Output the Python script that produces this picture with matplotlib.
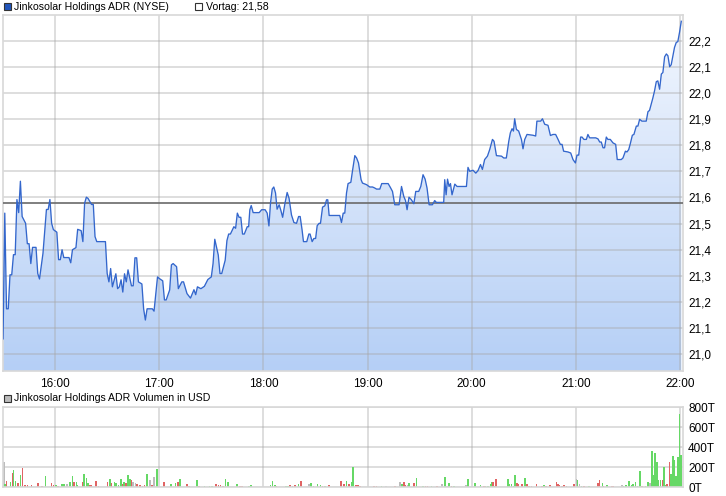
import numpy as np
import matplotlib
matplotlib.use('Agg')
import matplotlib.pyplot as plt
from matplotlib.patches import Polygon, Rectangle
from matplotlib.colors import LinearSegmentedColormap

plt.rcParams['font.family'] = ['Liberation Sans', 'DejaVu Sans']
plt.rcParams['font.size'] = 8.5

# Kursverlauf, Zeit in Minuten nach 15:30
kurs_min = [0, 1, 2, 3, 4, 5, 6, 7, 8, 9,
            10, 11, 13, 14, 15, 16, 17, 19, 20, 21,
            23, 25, 26, 27, 28, 29, 31, 32, 33, 34,
            35, 38, 39, 40, 42, 43, 45, 46, 47, 48,
            49, 51, 52, 53, 54, 59, 60, 61, 62, 63,
            65, 66, 67, 68, 69, 70, 71, 72, 74, 75,
            76, 77, 78, 80, 81, 82, 83, 86, 87, 89,
            90, 92, 93, 94, 96, 97, 98, 100, 101, 103,
            104, 106, 108, 110, 111, 112, 114, 116, 118, 120,
            121, 122, 124, 125, 126, 128, 129, 130, 131, 133,
            134, 135, 136, 137, 138, 139,
            140.7, 141.5, 142.2, 143.0, 144.1, 147.6, 149.0, 151.0, 152.2, 153.2,
            154.1, 155.1, 156.0, 157.0, 157.9, 159.1, 160.1, 161.1, 162.4, 163.7,
            164.8, 166.2, 167.6, 169.1, 170.3, 171.2, 172.3, 173.1, 175.0, 176.2,
            176.9, 178.1, 179.1, 180.1, 181.0, 182.1, 182.9, 184.1, 185.4, 186.4,
            187.1, 187.9, 194.0, 195.0, 196.0, 196.9, 197.9, 198.8, 200.4, 201.4,
            202.7, 203.7, 204.8, 206.3, 207.1, 209.4, 211.3, 212.9, 214.2, 215.2,
            217.1, 218.2, 221.9, 223.2, 224.4, 225.7, 228.2, 229.6, 230.9, 231.9,
            232.8, 233.9, 235.3, 236.7, 237.8, 239.5, 240.7, 242.0, 243.2, 244.3,
            245.5, 247.4, 248.7, 249.7, 253.9, 254.5, 255.3, 256.1, 257.0, 257.8,
            258.7, 260.3, 261.6, 267.0, 267.9, 268.9, 270.8, 272.4, 273.7, 275.1,
            276.2, 277.5, 279.1, 280.4, 282.0, 282.9, 284.3, 287.2, 288.5, 290.0,
            291.4, 292.3, 293.3, 294.1, 294.8, 295.8, 297.1, 298.7, 299.6, 300.6,
            301.9, 305.3, 306.9, 307.6, 309.8, 310.8, 312.1, 314.0, 315.4, 316.9,
            318.4, 319.8, 321.1, 322.1, 323.0, 325.5, 327.1, 328.4, 329.8, 330.7,
            331.7, 332.8, 333.6, 334.7, 336.1, 337.0, 338.0, 341.5, 342.8, 343.8,
            344.7, 345.7, 346.6, 347.6, 348.5, 349.9, 351.4, 353.0, 353.9, 356.2,
            357.2, 358.6, 359.5, 360.5, 361.4, 362.6, 363.5, 364.9, 365.8, 366.8,
            368.1, 370.6, 371.6, 372.5, 373.5, 374.4, 375.4, 376.4, 377.3, 378.3,
            379.3, 380.2, 381.2, 382.2, 383.1, 384.1, 385.0, 386.0, 386.9, 387.9,
            388.8, 389.8, 390.8]
kurs = [21.059, 21.540, 21.174, 21.174, 21.304, 21.304, 21.381, 21.381, 21.592, 21.542,
        21.662, 21.527, 21.501, 21.423, 21.423, 21.347, 21.409, 21.409, 21.309, 21.288,
        21.386, 21.554, 21.554, 21.592, 21.501, 21.477, 21.467, 21.362, 21.362, 21.400,
        21.370, 21.370, 21.350, 21.400, 21.408, 21.478, 21.473, 21.431, 21.578, 21.601,
        21.596, 21.573, 21.573, 21.450, 21.431, 21.431, 21.309, 21.277, 21.328, 21.258,
        21.308, 21.251, 21.258, 21.285, 21.238, 21.308, 21.277, 21.323, 21.262, 21.262,
        21.369, 21.369, 21.277, 21.269, 21.174, 21.131, 21.174, 21.174, 21.165, 21.296,
        21.290, 21.281, 21.208, 21.208, 21.246, 21.342, 21.347, 21.335, 21.251, 21.277,
        21.277, 21.232, 21.215, 21.247, 21.228, 21.258, 21.251, 21.260, 21.286, 21.296,
        21.347, 21.440, 21.380, 21.309, 21.309, 21.360, 21.435, 21.460, 21.460, 21.488,
        21.482, 21.540, 21.524, 21.524, 21.460, 21.460,
        21.488, 21.488, 21.553, 21.569, 21.542, 21.542, 21.553, 21.553, 21.540, 21.491,
        21.578, 21.632, 21.640, 21.617, 21.555, 21.572, 21.550, 21.524, 21.576, 21.619,
        21.597, 21.533, 21.504, 21.501, 21.527, 21.527, 21.476, 21.431, 21.431, 21.460,
        21.460, 21.431, 21.443, 21.443, 21.492, 21.501, 21.501, 21.563, 21.568, 21.591,
        21.591, 21.531, 21.531, 21.504, 21.540, 21.540, 21.617, 21.653, 21.658, 21.704,
        21.760, 21.751, 21.732, 21.668, 21.655, 21.649, 21.640, 21.640, 21.636, 21.632,
        21.632, 21.653, 21.653, 21.638, 21.623, 21.572, 21.572, 21.642, 21.604, 21.588,
        21.553, 21.601, 21.591, 21.576, 21.623, 21.623, 21.642, 21.687, 21.670, 21.636,
        21.572, 21.572, 21.588, 21.581, 21.581, 21.668, 21.610, 21.670, 21.642, 21.653,
        21.610, 21.651, 21.642, 21.642, 21.715, 21.700, 21.704, 21.693, 21.703, 21.726,
        21.707, 21.745, 21.758, 21.783, 21.822, 21.815, 21.760, 21.758, 21.751, 21.751,
        21.815, 21.847, 21.863, 21.854, 21.901, 21.860, 21.854, 21.822, 21.786, 21.822,
        21.841, 21.838, 21.835, 21.892, 21.892, 21.901, 21.880, 21.876, 21.837, 21.841,
        21.841, 21.822, 21.803, 21.803, 21.777, 21.774, 21.770, 21.745, 21.732, 21.762,
        21.762, 21.831, 21.831, 21.822, 21.822, 21.841, 21.828, 21.828, 21.824, 21.812,
        21.812, 21.790, 21.790, 21.831, 21.822, 21.822, 21.809, 21.803, 21.745, 21.745,
        21.751, 21.777, 21.774, 21.783, 21.805, 21.838, 21.841, 21.873, 21.873, 21.899,
        21.892, 21.892, 21.928, 21.933, 21.957, 21.980, 22.008, 22.043, 22.046, 22.014,
        22.072, 22.078, 22.138, 22.149, 22.142, 22.100, 22.108, 22.142, 22.174, 22.193,
        22.196, 22.232, 22.274]
vortag = 21.58

# Volumen in Tausend USD
vol_min = [0.4, 1.2, 1.9, 4.2, 5.4, 5.9, 7.1, 8.5, 10.0, 11.1,
           12.7, 14.2, 16.3, 20.3, 22.3, 24.4, 27.8, 29.0, 30.5, 31.8,
           34.1, 35.1, 37.0, 38.6, 39.9, 40.9, 42.2, 43.0, 46.1, 46.8,
           48.0, 49.1, 50.1, 50.8, 53.5, 54.9, 60.1, 61.6, 62.4, 64.1,
           65.2, 66.4, 68.1, 68.9, 69.7, 70.8, 72.1, 73.1, 73.9, 75.0,
           76.2, 77.3, 78.9, 80.4, 81.4, 83.1, 84.6, 85.8, 87.1, 88.8,
           92.7, 96.9, 99.4, 100.8, 102.1, 106.1, 107.1, 111.9, 113.0, 116.1,
           119.0, 120.5, 122.8, 124.2, 125.4, 126.7, 128.2, 129.6, 134.9, 136.5,
           137.8, 141.6, 142.8, 154.1, 155.3, 156.6, 157.6, 163.0, 164.3, 165.3,
           166.8, 168.1, 170.3, 171.6, 176.4, 177.3, 178.9, 181.2, 182.9, 184.1,
           185.4, 187.9, 194.8, 196.3, 197.9, 199.2, 200.8, 201.7, 203.3, 204.6,
           205.6, 213.6, 215.2, 218.1, 220.5, 225.7, 228.6, 229.9, 231.1, 232.0,
           233.0, 233.9, 236.8, 238.2, 242.0, 243.4, 244.5, 246.8, 250.1, 252.9,
           254.7, 255.8, 257.0, 258.4, 259.7, 266.8, 267.9, 271.9, 275.1, 277.0,
           278.1, 279.4, 280.8, 281.6, 282.3, 282.9, 284.0, 290.8, 291.9, 292.9,
           294.2, 295.0, 296.1, 296.9, 299.0, 300.7, 301.9, 303.0, 304.4, 307.3,
           310.4, 311.7, 312.7, 315.0, 318.8, 319.7, 320.7, 322.0, 323.2, 324.6,
           329.0, 330.3, 330.9, 332.2, 333.2, 334.7, 337.6, 342.8, 343.8, 345.3,
           346.1, 348.0, 350.8, 351.8, 356.6, 357.6, 359.1, 360.6, 362.0, 362.9,
           364.5, 365.6, 366.9, 368.3, 370.2, 371.6, 372.7, 373.9, 375.0, 375.6,
           376.7, 377.7, 378.9, 379.9, 380.8, 381.8, 382.7, 383.9, 384.8, 385.9,
           386.5, 387.7, 388.8, 389.8, 390.6]
vol_t = [250, 27, 57, 47, 143, 167, 57, 37, 117, 190,
         20, 20, 20, 37, 13, 107, 40, 17, 17, 13,
         27, 27, 27, 47, 107, 47, 47, 17, 47, 127,
         87, 37, 20, 20, 57, 10, 47, 77, 37, 47,
         37, 23, 77, 30, 47, 37, 117, 77, 67, 47,
         37, 27, 20, 13, 17, 127, 67, 20, 97, 177,
         50, 27, 37, 53, 77, 27, 13, 67, 13, 13,
         10, 10, 27, 20, 20, 13, 77, 47, 27, 10,
         10, 10, 17, 17, 57, 17, 13, 10, 10, 20,
         10, 17, 30, 57, 33, 40, 13, 30, 20, 13,
         10, 17, 57, 27, 57, 27, 50, 200, 17, 17,
         7, 7, 7, 7, 7, 10, 50, 27, 47, 20,
         20, 40, 40, 91, 10, 10, 10, 10, 10, 30,
         97, 13, 40, 7, 10, 20, 77, 40, 20, 10,
         10, 10, 30, 50, 54, 10, 77, 77, 27, 27,
         7, 118, 37, 27, 27, 87, 27, 10, 10, 27,
         10, 17, 10, 17, 47, 27, 17, 10, 17, 10,
         27, 77, 70, 27, 10, 10, 10, 37, 67, 37,
         10, 17, 10, 10, 17, 10, 17, 57, 17, 27,
         50, 10, 158, 10, 10, 47, 37, 360, 118, 340,
         250, 67, 67, 67, 200, 23, 27, 250, 128, 313,
         272, 111, 299, 733, 319]
# g = gestiegen, r = gefallen, n = unveraendert
vol_dir = ("n g r g r g g r g r  r r r r r g r r g r  g g n g g r g g r g  "
           "g g r r r r r g r g  g g g r g r g g r n  n r r r r g n r n g  "
           "r g g r g r r g r g  g g r r r r g g g r  r g g g g g r g g r  "
           "r r g r n g g g g r  g r r r g r g g r r  r r r g n r n g r r  "
           "n g r g g r r g r n  g n g r g n g g g r  g g g g r g r g g g  "
           "g g r r r g r r r r  r g r r r r r r r r  r n g n g r g r r g  "
           "r g r r n g g g g g  g g g r g g n g g g  g g g r g g r r g g  "
           "g g g g g").split()

zeit_ticks = [30, 90, 150, 210, 270, 330, 390]
zeit_labels = ['16:00', '17:00', '18:00', '19:00', '20:00', '21:00', '22:00']
kurs_ticks = [21.0, 21.1, 21.2, 21.3, 21.4, 21.5, 21.6, 21.7, 21.8, 21.9, 22.0, 22.1, 22.2]
vol_ticks = [0, 200, 400, 600, 800]

W, H = 726, 496
fig = plt.figure(figsize=(W / 100, H / 100), dpi=100)


def box(x0, y0, x1, y1):
    # Pixelkoordinaten (oben links) -> Figure-Koordinaten
    return [x0 / W, 1 - y1 / H, (x1 - x0) / W, (y1 - y0) / H]


xmin, xmax = -0.2, 391.5
ymin, ymax = 20.936, 22.298
gitter = dict(color='#a8a8a8', alpha=0.45, lw=1.2)

ax = fig.add_axes(box(2.7, 15, 682.5, 371))
ax.set_xlim(xmin, xmax)
ax.set_ylim(ymin, ymax)

# Flaeche mit Verlauf unter der Kurve
verts = [(kurs_min[0], ymin)] + list(zip(kurs_min, kurs)) + [(kurs_min[-1], ymin)]
flaeche = Polygon(verts, closed=True, facecolor='none', edgecolor='none')
ax.add_patch(flaeche)
cmap = LinearSegmentedColormap.from_list('blau', ['#b5cff6', '#f3f7fe'])
grad = np.linspace(0, 1, 256).reshape(-1, 1)
img = ax.imshow(grad, cmap=cmap, origin='lower', aspect='auto',
                extent=[xmin, xmax, ymin, ymax], zorder=1)
img.set_clip_path(flaeche)

for t in zeit_ticks:
    ax.axvline(t, zorder=2, **gitter)
for k in kurs_ticks:
    ax.axhline(k, zorder=2, **gitter)
ax.axhline(vortag, color='#6a6a6a', lw=1.2, zorder=3)
ax.plot(kurs_min, kurs, color='#3366cc', lw=0.95, zorder=4)

ax.set_xticks(zeit_ticks)
ax.set_xticklabels(zeit_labels)
ax.set_yticks(kurs_ticks)
ax.set_yticklabels([f'{k:.1f}'.replace('.', ',') for k in kurs_ticks])
ax.yaxis.tick_right()
ax.tick_params(length=0, pad=4, labelcolor='black')
ax.tick_params(axis='x', pad=5)
for s in ax.spines.values():
    s.set_color('#d8d8d8')
    s.set_linewidth(1.2)

# Volumen
av = fig.add_axes(box(2.7, 407, 682.5, 487))
av.set_xlim(xmin, xmax)
av.set_ylim(0, 800)
for t in zeit_ticks:
    av.axvline(t, zorder=1, **gitter)
for v in vol_ticks:
    av.axhline(v, zorder=1, **gitter)
farben = {'g': '#66d866', 'r': '#e06464', 'n': '#bcbcbc'}
av.bar(vol_min, vol_t, width=0.9, color=[farben[d] for d in vol_dir],
       linewidth=0, antialiased=False, zorder=2)
av.set_xticks([])
av.set_yticks(vol_ticks)
av.set_yticklabels([f'{v}T' for v in vol_ticks])
av.yaxis.tick_right()
av.tick_params(length=0, pad=4)
for s in av.spines.values():
    s.set_color('#d8d8d8')
    s.set_linewidth(1.2)

# Legenden
leg = dict(va='center', ha='left', fontsize=7.6)
fig.add_artist(Rectangle((3.5 / W, 1 - 10 / H), 7 / W, 7 / H, transform=fig.transFigure,
                         facecolor='#2255bb', edgecolor='#333333', lw=0.8))
fig.text(14.5 / W, 1 - 6.5 / H, 'Jinkosolar Holdings ADR (NYSE)', **leg)
fig.add_artist(Rectangle((195 / W, 1 - 10 / H), 7 / W, 7 / H, transform=fig.transFigure,
                         facecolor='white', edgecolor='#333333', lw=0.8))
fig.text(206 / W, 1 - 6.5 / H, 'Vortag: 21,58', **leg)
fig.add_artist(Rectangle((3.5 / W, 1 - 401.5 / H), 7 / W, 7 / H, transform=fig.transFigure,
                         facecolor='#bcbcbc', edgecolor='#333333', lw=0.8))
fig.text(14.5 / W, 1 - 398 / H, 'Jinkosolar Holdings ADR Volumen in USD', **leg)

fig.savefig('out.png', dpi=100)
